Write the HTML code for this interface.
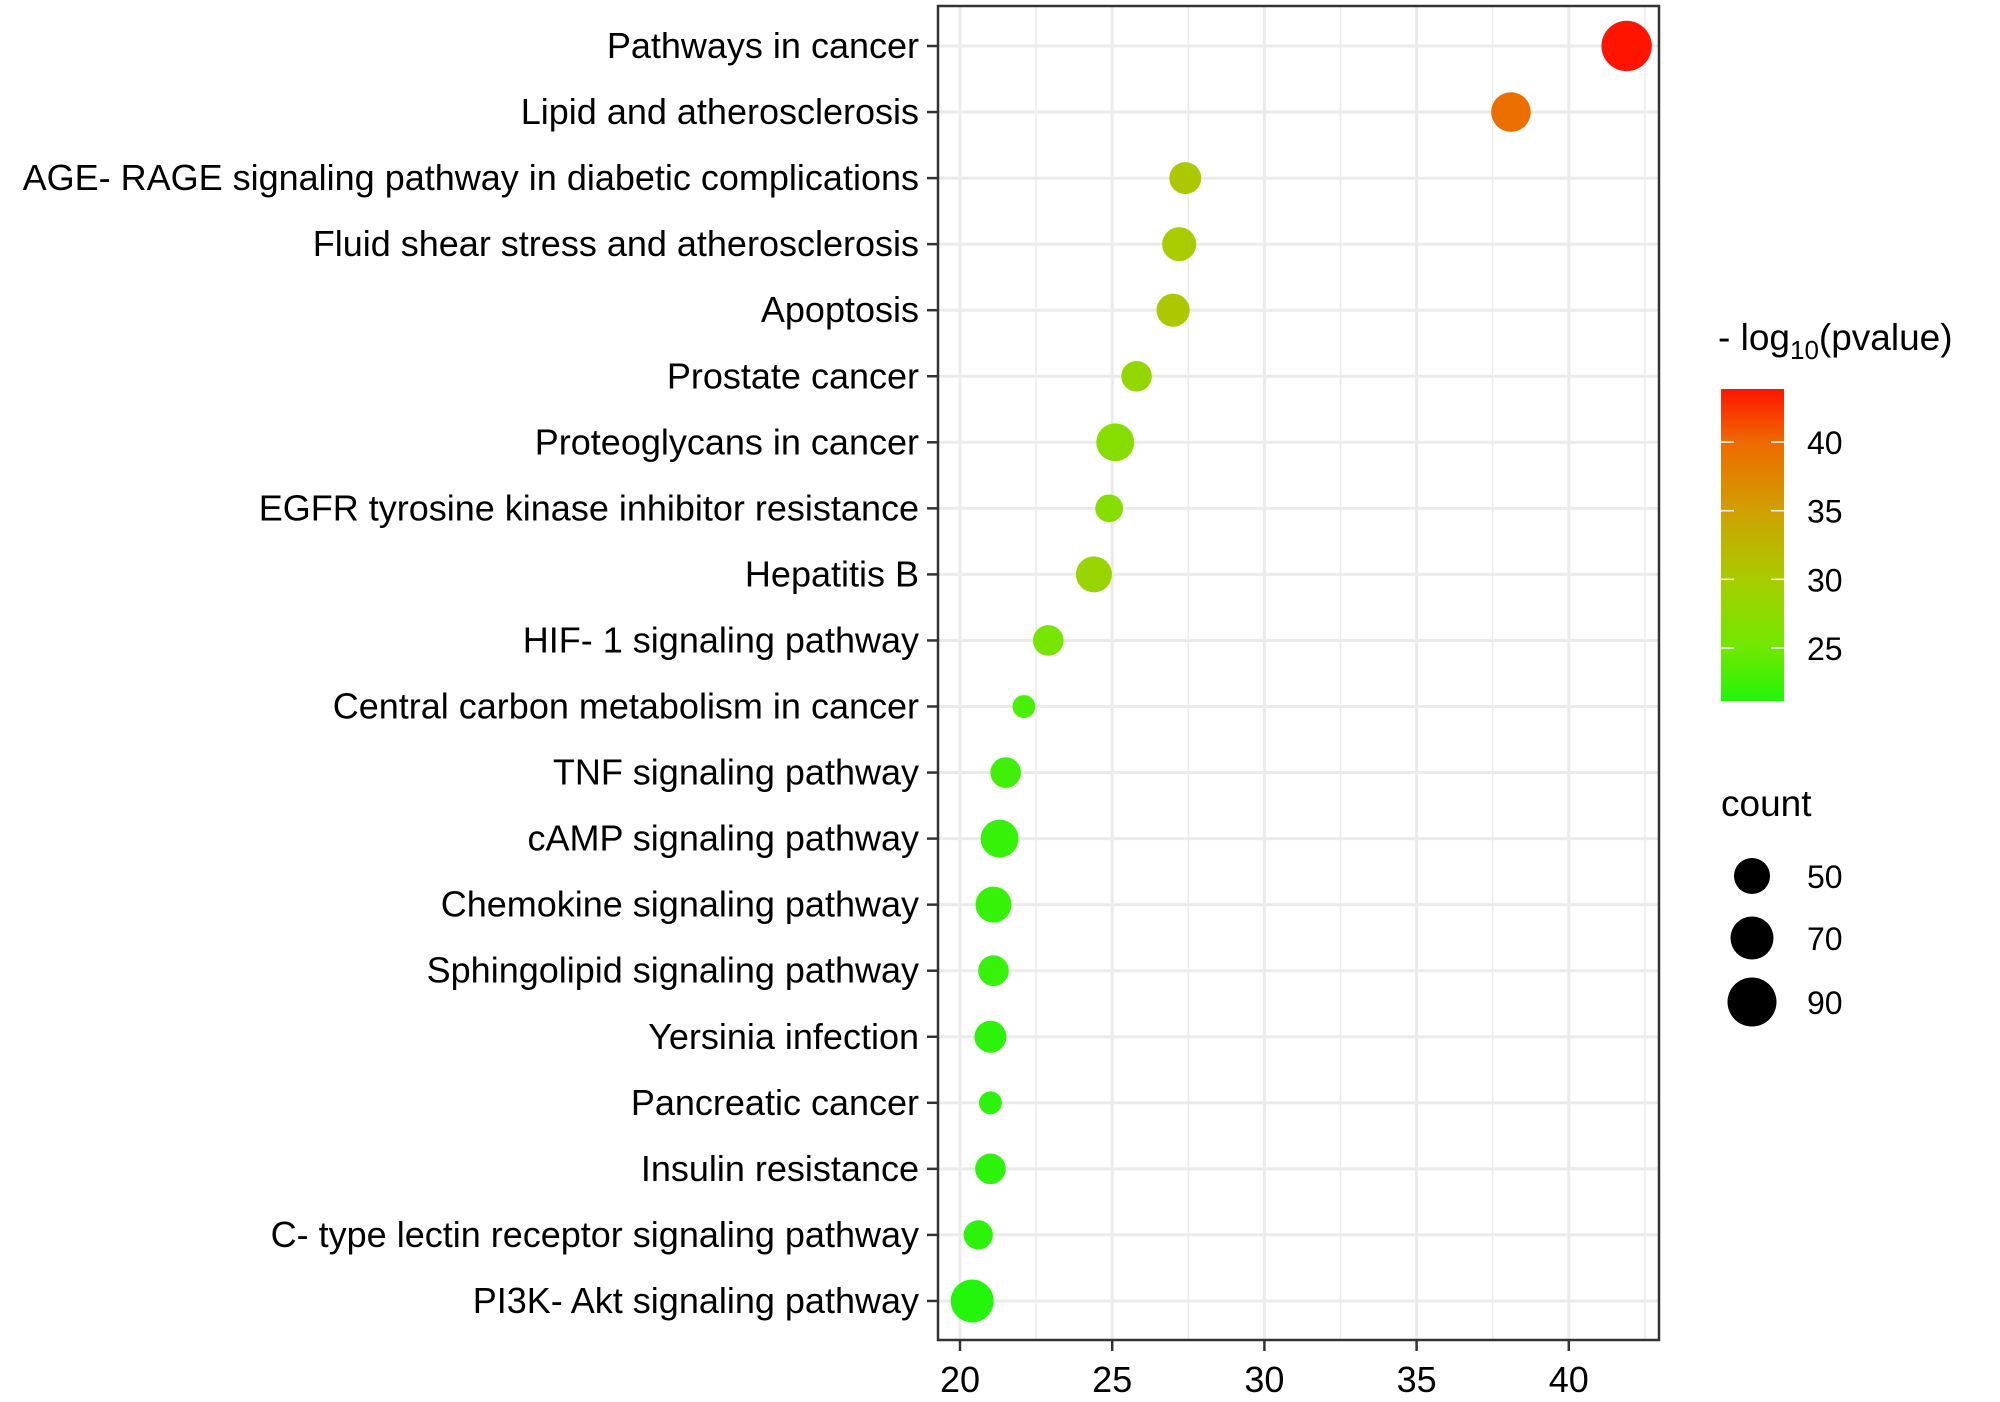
<!DOCTYPE html>
<html><head><meta charset="utf-8"><style>
html,body{margin:0;padding:0;background:#fff;}
svg{display:block;font-family:"Liberation Sans",Arial,sans-serif;}
</style></head><body>
<svg id="chart" width="2000" height="1402" viewBox="0 0 2000 1402">
<defs>
<linearGradient id="cbar" x1="0" y1="1" x2="0" y2="0">
<stop offset="0" stop-color="#22f50a"/>
<stop offset="0.17" stop-color="#70e800"/>
<stop offset="0.39" stop-color="#a8cc00"/>
<stop offset="0.61" stop-color="#d0a000"/>
<stop offset="0.83" stop-color="#ee6a00"/>
<stop offset="1" stop-color="#ff1400"/>
</linearGradient>
</defs>
<g id="grid"></g>
<g id="dots"></g>
<rect x="938" y="6" width="721" height="1334" fill="none" stroke="#333" stroke-width="2.5"/>
<g id="yaxis"></g>
<g id="xaxis"></g>
<g>
<text x="1718" y="350" font-size="37">- log<tspan font-size="26" dy="9">10</tspan><tspan dy="-9">(pvalue)</tspan></text>
<rect x="1721" y="389" width="63" height="312" fill="url(#cbar)"/>
<g id="cbticks"></g>
</g>
<g id="sizeleg">
<text x="1721" y="816" font-size="37">count</text>
</g>
</svg>
<script>
const categories = ["Pathways in cancer","Lipid and atherosclerosis","AGE- RAGE signaling pathway in diabetic complications","Fluid shear stress and atherosclerosis","Apoptosis","Prostate cancer","Proteoglycans in cancer","EGFR tyrosine kinase inhibitor resistance","Hepatitis B","HIF- 1 signaling pathway","Central carbon metabolism in cancer","TNF signaling pathway","cAMP signaling pathway","Chemokine signaling pathway","Sphingolipid signaling pathway","Yersinia infection","Pancreatic cancer","Insulin resistance","C- type lectin receptor signaling pathway","PI3K- Akt signaling pathway"];
const xValues = [41.9,38.1,27.4,27.2,27.0,25.8,25.1,24.9,24.4,22.9,22.1,21.5,21.3,21.1,21.1,21.0,21.0,21.0,20.6,20.4];
const counts = [95,60,40,45,43,37,55,31,50,37,22,37,55,50,37,40,22,37,34,70];
const logP = [44,39.5,30.5,30,30.5,28,27,27,28.5,25.5,23,22.5,22,22,22,21.5,21.5,21.5,21.5,21];
const xTicks = [20,25,30,35,40];
const colorTicks = [25,30,35,40];
const sizeLegend = [50,70,90];

const NS="http://www.w3.org/2000/svg";
function mk(tag,attrs,parent){const e=document.createElementNS(NS,tag);for(const k in attrs)e.setAttribute(k,attrs[k]);parent.appendChild(e);return e;}
const X0=938,X1=1659,Y0=6,Y1=1340;
const xs=v=>960+30.44*(v-20);
const ys=i=>46+66.05*i;
const rs=c=>Math.sqrt(Math.max(20,-21+6.9*c));
const cy=v=>648-(v-25)*13.73;
const stops=[[21,[34,245,10]],[25,[112,232,0]],[30,[168,204,0]],[35,[208,160,0]],[40,[238,106,0]],[44,[255,20,0]]];
function col(v){
  if(v<=stops[0][0])return "rgb("+stops[0][1]+")";
  for(let i=1;i<stops.length;i++){if(v<=stops[i][0]){const a=stops[i-1],b=stops[i],t=(v-a[0])/(b[0]-a[0]);return "rgb("+a[1].map((c,j)=>Math.round(c+(b[1][j]-c)*t)).join(",")+")";}}
  return "rgb("+stops[stops.length-1][1]+")";
}
const grid=document.getElementById('grid');
const bg=mk('rect',{x:X0,y:Y0,width:X1-X0,height:Y1-Y0,fill:'#fff'},grid);


for(let v=17.5;v<=45;v+=2.5){
  const x=xs(v); if(x<X0||x>X1)continue;
  const major=(v%5===0);
  const l=mk('line',{x1:x,x2:x,y1:Y0,y2:Y1,stroke:'#ebebeb','stroke-width':major?3:1.5},grid);
  
  
}
categories.forEach((c,i)=>{
  const l=mk('line',{x1:X0,x2:X1,y1:ys(i),y2:ys(i),stroke:'#ebebeb','stroke-width':3},grid);
  
  
});
const dots=document.getElementById('dots');
categories.forEach((c,i)=>{
  const e=mk('circle',{cx:xs(xValues[i]),cy:ys(i),r:rs(counts[i]),fill:col(logP[i])},dots);
  
  
});
const ya=document.getElementById('yaxis');
categories.forEach((c,i)=>{
  const t=mk('line',{x1:927,x2:938,y1:ys(i),y2:ys(i),stroke:'#333','stroke-width':2.5},ya);
  
  
  const tx=mk('text',{x:919,y:ys(i)+12,'font-size':36,'text-anchor':'end',fill:'#000'},ya);
  tx.textContent=c;
  
  
});
const xa=document.getElementById('xaxis');
xTicks.forEach(v=>{
  const t=mk('line',{x1:xs(v),x2:xs(v),y1:Y1,y2:Y1+11,stroke:'#333','stroke-width':2.5},xa);
  
  
  const tx=mk('text',{x:xs(v),y:1392,'font-size':36,'text-anchor':'middle',fill:'#000'},xa);
  tx.textContent=v;
  
  
});
const cb=document.getElementById('cbticks');
colorTicks.forEach(v=>{
  const y=cy(v);
  const a=mk('line',{x1:1721,x2:1734,y1:y,y2:y,stroke:'#fff','stroke-width':1.5},cb);
  
  
  const b=mk('line',{x1:1771,x2:1784,y1:y,y2:y,stroke:'#fff','stroke-width':1.5},cb);
  
  
  const tx=mk('text',{x:1807,y:y+12,'font-size':32,fill:'#000'},cb);
  tx.textContent=v;
  
  
});
const sl=document.getElementById('sizeleg');
const sy=[876,938,1002];
sizeLegend.forEach((v,i)=>{
  const e=mk('circle',{cx:1752,cy:sy[i],r:rs(v),fill:'#000'},sl);
  
  
  const tx=mk('text',{x:1807,y:sy[i]+12,'font-size':32,fill:'#000'},sl);
  tx.textContent=v;
  
  
});
</script>
</body></html>
